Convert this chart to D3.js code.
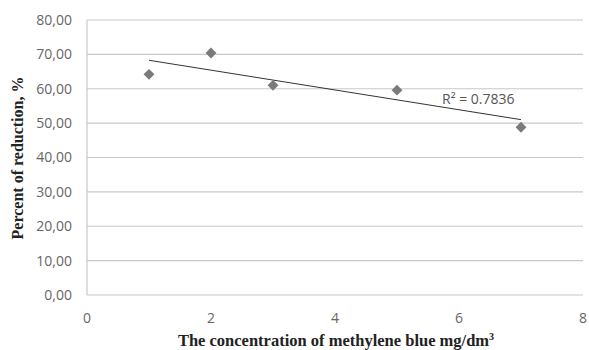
<!DOCTYPE html>
<html><head><meta charset="utf-8">
<script src="https://cdn.jsdelivr.net/npm/d3@7"></script>
<style>body{margin:0;background:#fff}</style>
</head><body>
<svg id="c" width="589" height="350"></svg>
<script>
const concentrations = [1, 2, 3, 5, 7];
const reductions = [64.2, 70.4, 61.0, 59.6, 48.8];
const xTicks = [0, 2, 4, 6, 8];
const yTicks = [0, 10, 20, 30, 40, 50, 60, 70, 80];
const r2Label = "R² = 0.7836";

const svg = d3.select("#c");
const x = d3.scaleLinear().domain([0, 8]).range([87, 583]);
const y = d3.scaleLinear().domain([0, 80]).range([295, 20]);

// gridlines
svg.append("g").selectAll("line").data(yTicks).join("line")
  .attr("x1", x(0)).attr("x2", x(8))
  .attr("y1", d => y(d)).attr("y2", d => y(d))
  .attr("stroke", "#c8c8c8").attr("stroke-width", 1.2);

// left axis line
svg.append("line").attr("x1", x(0)).attr("x2", x(0)).attr("y1", y(0)).attr("y2", y(80))
  .attr("stroke", "#c8c8c8").attr("stroke-width", 1.2);

const fmt = d => d.toFixed(2).replace(".", ",");
const tickFont = "'Open Sans', 'Liberation Sans', sans-serif";

svg.append("g").selectAll("text").data(yTicks).join("text")
  .attr("x", 72).attr("y", d => y(d)).attr("dy", "0.35em")
  .attr("text-anchor", "end").attr("font-family", tickFont).attr("font-size", 14)
  .attr("fill", "#666").text(fmt);

svg.append("g").selectAll("text").data(xTicks).join("text")
  .attr("x", d => x(d)).attr("y", 318).attr("dy", "0.35em")
  .attr("text-anchor", "middle").attr("font-family", tickFont).attr("font-size", 14)
  .attr("fill", "#666").text(d => d);

// trendline (least squares)
const n = concentrations.length;
const mx = d3.mean(concentrations), my = d3.mean(reductions);
let sxy = 0, sxx = 0;
for (let i = 0; i < n; i++) { sxy += (concentrations[i]-mx)*(reductions[i]-my); sxx += (concentrations[i]-mx)**2; }
const slope = sxy / sxx, icpt = my - slope * mx;
const x0 = d3.min(concentrations), x1 = d3.max(concentrations);
svg.append("line")
  .attr("x1", x(x0)).attr("y1", y(icpt + slope * x0))
  .attr("x2", x(x1)).attr("y2", y(icpt + slope * x1))
  .attr("stroke", "#333").attr("stroke-width", 1);

// markers
svg.append("g").selectAll("path").data(concentrations.map((c, i) => [c, reductions[i]])).join("path")
  .attr("transform", d => `translate(${x(d[0])},${y(d[1])})`)
  .attr("d", d3.symbol(d3.symbolDiamond2, 75)())
  .attr("fill", "#7a7a7a");

svg.append("text").attr("x", 442).attr("y", 99).attr("dy", "0.35em")
  .attr("font-family", tickFont).attr("font-size", 14).attr("fill", "#555")
  .text(r2Label);

// titles
svg.append("text").attr("x", 336).attr("y", 340).attr("dy", "0.35em")
  .attr("text-anchor", "middle").attr("font-family", "'Liberation Serif', serif")
  .attr("font-weight", "bold").attr("font-size", 16.5).attr("fill", "#222")
  .html("The concentration of methylene blue mg/dm<tspan dy='-6' font-size='10'>3</tspan>");

svg.append("text").attr("transform", "translate(17,158) rotate(-90)").attr("dy", "0.35em")
  .attr("text-anchor", "middle").attr("font-family", "'Liberation Serif', serif")
  .attr("font-weight", "bold").attr("font-size", 16).attr("fill", "#222")
  .text("Percent of reduction, %");
</script>
</body></html>
